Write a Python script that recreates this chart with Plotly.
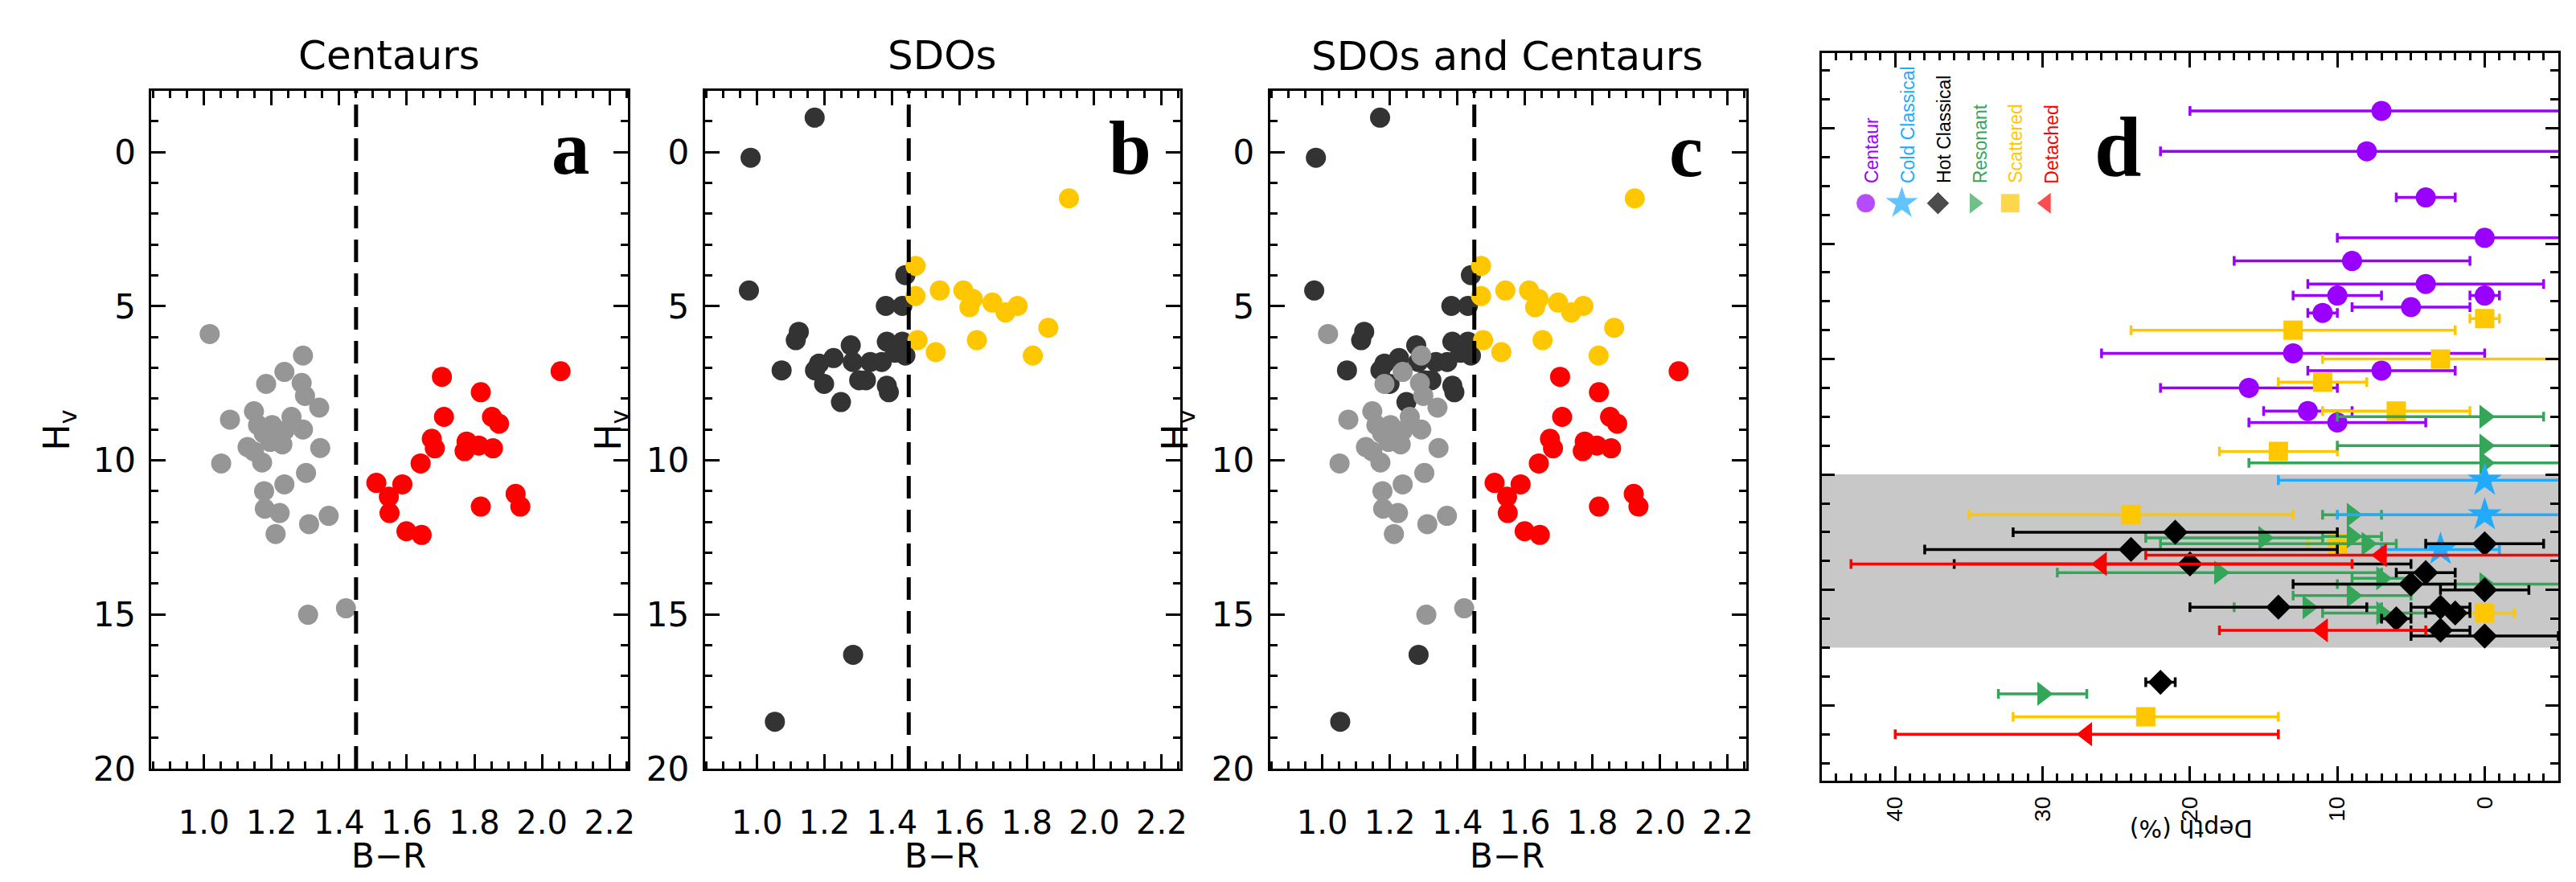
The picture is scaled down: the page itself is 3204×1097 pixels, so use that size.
import plotly.graph_objects as go

W, H = 3204, 1097

# ---------------- Panels a-c data (B-R colour vs H_v) ----------------
cen_gray_br = [1.017, 1.293, 1.238, 1.184, 1.289, 1.299, 1.341, 1.148, 1.077, 1.259,
               1.202, 1.160, 1.238, 1.293, 1.177, 1.129, 1.232, 1.344, 1.051, 1.172,
               1.302, 1.238, 1.178, 1.180, 1.224, 1.369, 1.311, 1.212, 1.308, 1.420,
               1.148, 1.196]
cen_gray_hv = [5.9, 6.6, 7.13, 7.52, 7.49, 7.91, 8.29, 8.41, 8.68, 8.59,
               8.86, 8.86, 9.04, 9.0, 9.13, 9.57, 9.48, 9.6, 10.1, 10.07,
               10.41, 10.78, 11.0, 11.57, 11.71, 11.8, 12.07, 12.39, 15.01, 14.8,
               9.71, 9.4]
cen_red_br = [1.704, 2.055, 1.819, 1.710, 1.852, 1.873, 1.674, 1.683, 1.777, 1.813,
              1.771, 1.855, 1.641, 1.510, 1.587, 1.547, 1.549, 1.819, 1.922, 1.936,
              1.599, 1.644]
cen_red_hv = [7.29, 7.11, 7.79, 8.59, 8.59, 8.81, 9.3, 9.61, 9.39, 9.52,
              9.7, 9.61, 10.1, 10.73, 10.78, 11.18, 11.71, 11.5, 11.09, 11.5,
              12.3, 12.42]
sdo_dark_br = [1.171, 0.981, 0.976, 1.440, 1.382, 1.431, 1.124, 1.115, 1.278, 1.385,
               1.431, 1.227, 1.284, 1.336, 1.370, 1.409, 1.440, 1.184, 1.172, 1.073,
               1.199, 1.303, 1.323, 1.385, 1.391, 1.249, 1.285, 1.053]
sdo_dark_hv = [-1.12, 0.18, 4.49, 3.99, 4.99, 4.99, 5.83, 6.10, 6.27, 6.15,
               6.15, 6.68, 6.81, 6.81, 6.81, 6.51, 6.6, 6.86, 7.08, 7.08,
               7.52, 7.4, 7.4, 7.58, 7.79, 8.11, 16.31, 18.48]
sdo_yel_br = [1.925, 1.470, 1.470, 1.542, 1.612, 1.640, 1.630, 1.698, 1.737, 1.773,
              1.476, 1.530, 1.652, 1.864, 1.818]
sdo_yel_hv = [1.5, 3.69, 4.67, 4.49, 4.49, 4.76, 5.03, 4.88, 5.2, 4.99,
              6.10, 6.49, 6.10, 5.7, 6.6]
color_split = 1.45
br_ticks = [1.0, 1.2, 1.4, 1.6, 1.8, 2.0, 2.2]
hv_ticks = [0, 5, 10, 15, 20]

# ---------------- Panel d data (depth %, row position, error ends) ----------------
cent_row = [-0.6, 0.8, 2.4, 3.8, 4.6, 5.4, 5.8, 5.8, 6.2, 6.4, 7.8, 8.4, 9.0, 9.8, 10.2]
cent_dep = [7, 8, 4, 0, 9, 4, 10, 0, 5, 11, 13, 7, 16, 12, 10]
cent_lo = [20, 22, 6, 10, 17, 12, 13, 1, 9, 12, 26, 12, 22, 15, 16]
cent_hi = [-8, -8, 2, -8, 1, -4, 7, -1, 1, 10, 0, 2, 10, 9, 4]

scat_row = [6.6, 7.0, 8.0, 8.8, 9.8, 11.2, 13.4, 14.4, 16.8, 20.4]
scat_dep = [0, 13, 3, 11, 6, 14, 24, 10, 0, 23]
scat_lo = [1, 24, 11, 14, 11, 18, 35, 12, 2, 32]
scat_hi = [-1, 2, -8, 8, 1, 10, 13, 8, -2, 14]

reso_row = [10.0, 11.0, 11.6, 13.4, 14.2, 14.15, 14.4, 15.4, 15.6, 15.8, 16.2, 16.6, 16.8, 19.6]
reso_dep = [0, 0, 0, 9, 15, 9, 8, 18, 7, 0, 9, 12, 7, 30]
reso_lo = [10, 10, 16, 11, 23, 11, 22, 29, 9, 10, 13, 17, 11, 33]
reso_hi = [-4, -8, -8, 7, 11, 7, 6, 7, 5, -8, 5, 7, 3, 27]

cold_row = [12.2, 13.4, 14.6]
cold_dep = [0, 0, 3]
cold_lo = [14, 10, 7]
cold_hi = [-8, -8, -1]

hot_row = [14.0, 14.6, 15.1, 15.4, 15.8, 16.0, 16.6, 16.6, 16.8, 17.0, 17.4, 17.6, 19.2, 14.4]
hot_dep = [21, 24, 20, 4, 5, 0, 14, 3, 2, 6, 3, 0, 22, 0]
hot_lo = [32, 38, 36, 6, 13, 3, 20, 5, 4, 7, 5, 5, 23, 4]
hot_hi = [10, 10, 5, 2, 2, -3, 8, 1, 1, 5, 1, -5, 21, -4]

det_row = [14.8, 15.1, 17.4, 21.0]
det_dep = [7, 26, 11, 27]
det_lo = [23, 43, 18, 40]
det_hi = [-8, 9, 4, 14]

depth_ticks = [0, 10, 20, 30, 40]
shade_rows = [12, 18]
classes = ["Centaur", "Cold Classical", "Hot Classical", "Resonant", "Scattered", "Detached"]

# ---------------- styling ----------------
GRAY, RED, DARK, YEL = "#969696", "#FF0000", "#333333", "#FFC700"
PUR, BLU, BLK, GRN = "#9900FF", "#22AAFF", "#000000", "#35A558"
FONT = "DejaVu Sans"


def px(x):
    return x / W


def py(y):
    return 1 - y / H


fig = go.Figure()


def dots(x, y, color, ax):
    fig.add_trace(go.Scatter(x=x, y=y, mode="markers", xaxis="x" + ax, yaxis="y" + ax,
                             marker=dict(color=color, size=25, line=dict(width=0)),
                             showlegend=False, hoverinfo="skip"))


# panel a
dots(cen_gray_br, cen_gray_hv, GRAY, "")
dots(cen_red_br, cen_red_hv, RED, "")
# panel b
dots(sdo_dark_br, sdo_dark_hv, DARK, "2")
dots(sdo_yel_br, sdo_yel_hv, YEL, "2")
# panel c
dots(sdo_dark_br, sdo_dark_hv, DARK, "3")
dots(sdo_yel_br, sdo_yel_hv, YEL, "3")
dots(cen_gray_br, cen_gray_hv, GRAY, "3")
dots(cen_red_br, cen_red_hv, RED, "3")


def errs(row, dep, lo, hi, color, symbol, size):
    plus = [l - d for l, d in zip(lo, dep)]
    minus = [d - h for d, h in zip(dep, hi)]
    fig.add_trace(go.Scatter(
        x=dep, y=row, mode="markers", xaxis="x4", yaxis="y4",
        marker=dict(color=color, symbol=symbol, size=size, line=dict(width=0)),
        error_x=dict(type="data", array=plus, arrayminus=minus, color=color,
                     thickness=3.5, width=6, symmetric=False),
        showlegend=False, hoverinfo="skip"))


errs(cent_row, cent_dep, cent_lo, cent_hi, PUR, "circle", 25)
errs(scat_row, scat_dep, scat_lo, scat_hi, YEL, "square", 24)
errs(reso_row, reso_dep, reso_lo, reso_hi, GRN, "triangle-right", 26)
errs(cold_row, cold_dep, cold_lo, cold_hi, BLU, "star", 32)
errs(hot_row, hot_dep, hot_lo, hot_hi, BLK, "diamond", 24)
errs(det_row, det_dep, det_lo, det_hi, RED, "triangle-left", 26)

# legend key for panel d (placed in the panel's own coordinates)
key_x0, key_dx, key_row = 42.0, 2.45, 2.6
key_cols = [PUR, BLU, BLK, GRN, YEL, RED]
key_syms = ["circle", "star", "diamond", "triangle-right", "square", "triangle-left"]
key_sizes = [24, 32, 22, 24, 24, 24]
key_x = [key_x0 - i * key_dx for i in range(len(classes))]
fig.add_trace(go.Scatter(x=key_x, y=[key_row] * len(classes), mode="markers",
                         xaxis="x4", yaxis="y4",
                         marker=dict(color=key_cols, symbol=key_syms, size=key_sizes),
                         showlegend=False, hoverinfo="skip"))

# ---------------- axes ----------------
frame = dict(showline=True, linecolor="black", linewidth=3, mirror="ticks",
             ticks="inside", tickcolor="black", tickwidth=3, showgrid=False,
             zeroline=False)

ydom_abc = [py(970), py(107)]
dom_a = [px(181), px(775.5)]
dom_b = [px(871), px(1464)]
dom_c = [px(1576), px(2170)]
dom_d = [px(2264), px(3183)]
ydom_d = [py(985), py(59.5)]


def br_axis(dom, anchor):
    return dict(frame, domain=dom, anchor=anchor, range=[0.845, 2.255],
                tickvals=br_ticks, ticktext=["%.1f" % t for t in br_ticks],
                ticklen=18, ticklabelstandoff=30,
                tickfont=dict(family=FONT, size=40, color="black"),
                minor=dict(dtick=0.05, tick0=1.0, ticklen=9, tickwidth=3,
                           tickcolor="black", ticks="inside"))


def hv_axis(anchor):
    return dict(frame, domain=ydom_abc, anchor=anchor, range=[20, -2],
                tickvals=hv_ticks, ticklen=18, ticklabelstandoff=8,
                tickfont=dict(family=FONT, size=42, color="black"),
                minor=dict(dtick=1, tick0=0, ticklen=9, tickwidth=3,
                           tickcolor="black", ticks="inside"))


layout = dict(
    width=W, height=H, margin=dict(l=0, r=0, t=0, b=0),
    paper_bgcolor="white", plot_bgcolor="white", showlegend=False,
    xaxis=br_axis(dom_a, "y"), yaxis=hv_axis("x"),
    xaxis2=br_axis(dom_b, "y2"), yaxis2=hv_axis("x2"),
    xaxis3=br_axis(dom_c, "y3"), yaxis3=hv_axis("x3"),
    xaxis4=dict(frame, domain=dom_d, anchor="y4", range=[45, -5],
                tickvals=depth_ticks, tickangle=-90, ticklen=18,
                ticklabelstandoff=6,
                tickfont=dict(family="Liberation Sans", size=28, color="black"),
                minor=dict(dtick=1, tick0=0, ticklen=9, tickwidth=3,
                           tickcolor="black", ticks="inside")),
    yaxis4=dict(frame, domain=ydom_d, anchor="x4", range=[22.6, -2.6],
                tickvals=[0, 4, 8, 12, 16, 20], showticklabels=False, ticklen=16,
                minor=dict(dtick=1, tick0=0, ticklen=10, tickwidth=3,
                           tickcolor="black", ticks="inside")),
)
fig.update_layout(**layout)

# ---------------- shapes ----------------
for ax in ["x", "x2", "x3"]:
    yd = "y" + ax[1:] + " domain" if ax != "x" else "y domain"
    fig.add_shape(type="line", xref=ax, yref=yd, x0=color_split, x1=color_split,
                  y0=0, y1=1, line=dict(color="black", width=5, dash="28px,14px"))

fig.add_shape(type="rect", xref="x4 domain", yref="y4", x0=0, x1=1,
              y0=shade_rows[0], y1=shade_rows[1], fillcolor="#C8C8C8",
              line=dict(width=0), layer="below")

# ---------------- annotations ----------------
ann = []


def text(x, y, s, size, color="black", family=FONT, angle=0, xa="center", ya="middle"):
    ann.append(dict(x=px(x), y=py(y), xref="paper", yref="paper", text=s,
                    showarrow=False, textangle=angle, xanchor=xa, yanchor=ya,
                    font=dict(family=family, size=size, color=color)))


text(477, 62, "Centaurs", 50)
text(1167, 62, "SDOs", 50)
text(1872, 63, "SDOs and Centaurs", 50)
for xc in [477, 1167, 1872]:
    text(xc, 1081, "B\u2212R", 42)
for xc in [66, 754, 1461]:
    text(xc, 539, "H<sub>v</sub>", 44, angle=-90)

SERIF = "Liberation Serif"
text(704, 180, "<b>a</b>", 95, family=SERIF)
text(1401, 180, "<b>b</b>", 95, family=SERIF)
text(2095, 183, "<b>c</b>", 95, family=SERIF)
text(2633, 180, "<b>d</b>", 105, family=SERIF)

text(2725, 1047, "Depth (%)", 30, angle=180)

for i, (name, col) in enumerate(zip(classes, key_cols)):
    ann.append(dict(x=key_x[i] - 0.4, y=1.97, xref="x4", yref="y4", text=name,
                    showarrow=False, textangle=-90, xanchor="center", yanchor="bottom",
                    font=dict(family="Liberation Sans Narrow, Liberation Sans", size=23,
                              color=col)))

fig.update_layout(annotations=ann)

fig.write_html("out.html")
